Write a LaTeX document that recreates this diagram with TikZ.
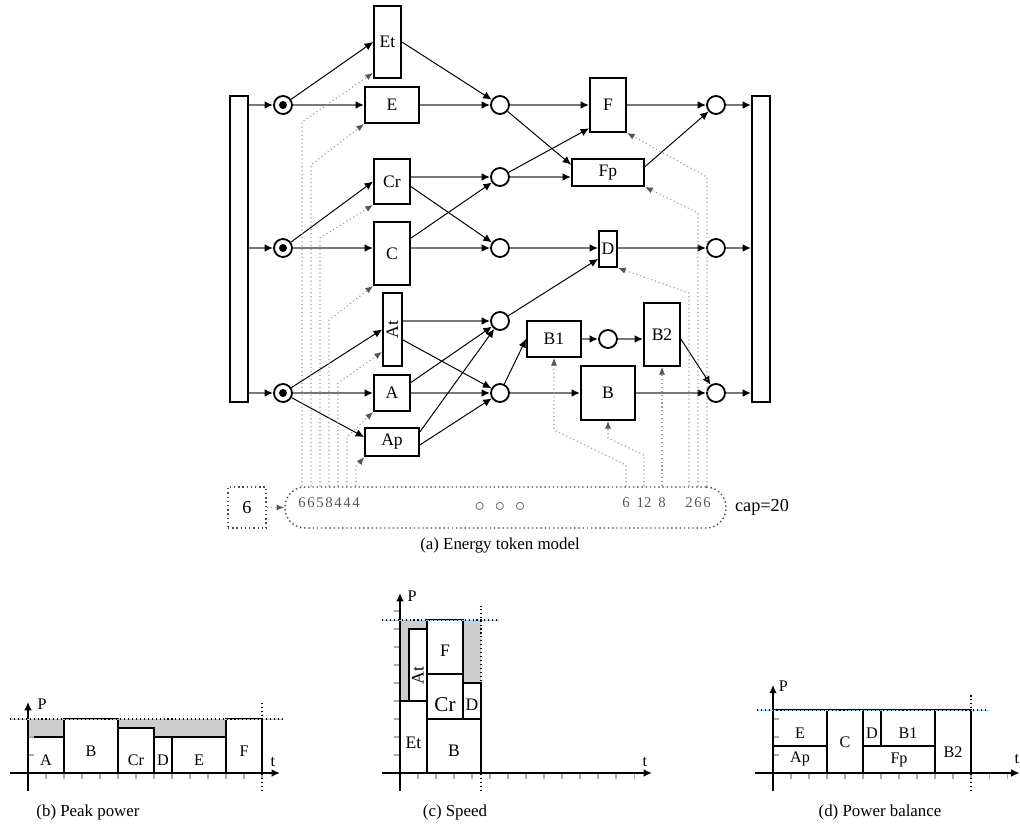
\documentclass[tikz,border=0pt]{standalone}
\usepackage{fontspec}
\setmainfont{Liberation Serif}
\usepackage{tikz}
\usetikzlibrary{arrows.meta, calc}
\definecolor{arcgray}{RGB}{120, 120, 120}
\definecolor{ctrlgray}{RGB}{155, 155, 155}
\definecolor{tipgray}{RGB}{85, 85, 85}
\definecolor{slackgray}{RGB}{205, 205, 205}
\definecolor{capblue}{RGB}{150, 200, 235}
\definecolor{tickgray}{RGB}{170, 170, 170}

\begin{document}
\begin{tikzpicture}[x=0.025cm, y=-0.025cm,
    trans/.style={draw, line width=1.3pt, fill=white, inner sep=0pt, font=\fontsize{12.5}{15}\selectfont},
    place/.style={draw, circle, line width=1.3pt, fill=white, minimum size=0.45cm, inner sep=0pt},
    arc/.style={arcgray, line width=1.2pt, -{Latex[color=black, length=6pt, width=5.5pt]}},
    link/.style={black, line width=0.7pt, -{Latex[length=6pt, width=5.5pt]}},
    ctrl/.style={ctrlgray, dotted, line width=0.8pt, -{Latex[color=tipgray, length=5.5pt, width=4.5pt]}},
    cnum/.style={tipgray, inner sep=0pt, font=\fontsize{10.5}{12}\selectfont},
    block/.style={draw, line width=1.2pt, fill=white},
    clabel/.style={inner sep=0pt, font=\fontsize{11.5}{13}\selectfont},
    axis/.style={black, line width=1.2pt, -{Latex[length=6pt, width=5.5pt]}},
    tick/.style={tickgray, line width=0.8pt},
    capline/.style={black, dotted, line width=0.8pt, preaction={draw, capblue, solid}},
    bound/.style={black, dotted, line width=0.8pt},
    caption/.style={font=\fontsize{12}{14}\selectfont}]
    \useasboundingbox (0,0) rectangle (1020,828);

    % Supply and sink bars
    \node[trans, minimum width=0.45cm, minimum height=7.65cm] (L) at (239,249) {};
    \node[trans, minimum width=0.45cm, minimum height=7.65cm] (R) at (761,249) {};

    % Marked places
    \foreach \n/\y in {p1/105, p2/248, p3/393} {
        \node[place] (\n) at (283,\y) {};
        \fill (\n.center) circle (0.1cm);
    }

    % Transitions
    \node[trans, minimum width=0.675cm, minimum height=1.8cm] (Et) at (387.5,42) {Et};
    \node[trans, minimum width=1.35cm, minimum height=0.9cm] (E) at (392,105) {E};
    \node[trans, minimum width=0.9cm, minimum height=1.125cm] (Cr) at (392,181.5) {Cr};
    \node[trans, minimum width=0.9cm, minimum height=1.575cm] (C) at (392,253.5) {C};
    \node[trans, minimum width=0.475cm, minimum height=1.825cm] (At) at (392.5,329.5) {\rotatebox{90}{At}};
    \node[trans, minimum width=0.9cm, minimum height=0.9cm] (A) at (392,393) {A};
    \node[trans, minimum width=1.35cm, minimum height=0.7cm] (Ap) at (392,442) {Ap};
    \node[trans, minimum width=0.9cm, minimum height=1.35cm] (F) at (608,105) {F};
    \node[trans, minimum width=1.8cm, minimum height=0.675cm] (Fp) at (608,172.5) {Fp};
    \node[trans, minimum width=0.45cm, minimum height=0.9cm] (D) at (608,249) {D};
    \node[trans, minimum width=1.35cm, minimum height=0.9cm] (B1) at (554,339) {B1};
    \node[trans, minimum width=0.9cm, minimum height=1.575cm] (B2) at (662,334.5) {B2};
    \node[trans, minimum width=1.35cm, minimum height=1.35cm] (B) at (608,393) {B};

    % Empty places
    \foreach \n/\y in {m1/105, m2/177, m3/248, m4/321, m5/393}
        \node[place] (\n) at (500,\y) {};
    \foreach \n/\y in {r1/105, r2/248, r3/393}
        \node[place] (\n) at (716,\y) {};
    \node[place] (mb) at (608,339) {};

    % Row arcs
    \foreach \p in {p1, p2, p3}
        \draw[arc] (L.east |- \p) -- (\p);
    \foreach \r in {r1, r2, r3}
        \draw[arc] (\r) -- (R.west |- \r);
    \draw[arc] (p1) -- (E);
    \draw[arc] (E) -- (m1);
    \draw[arc] (m1) -- (F);
    \draw[arc] (F) -- (r1);
    \draw[arc] (Cr.east |- m2) -- (m2);
    \draw[arc] (m2) -- (Fp.west |- m2);
    \draw[arc] (p2) -- (C.west |- p2);
    \draw[arc] (C.east |- p2) -- (m3);
    \draw[arc] (m3) -- (D.west |- m3);
    \draw[arc] (D.east |- m3) -- (r2);
    \draw[arc] (At.east |- m4) -- (m4);
    \draw[arc] (p3) -- (A);
    \draw[arc] (A) -- (m5);
    \draw[arc] (m5) -- (B);
    \draw[arc] (B) -- (r3);
    \draw[arc] (B1) -- (mb);
    \draw[arc] (mb) -- (B2.west |- mb);

    % Cross links
    \draw[link] (p1) -- (Et.west);
    \draw[link] (Et.east) -- (m1);
    \draw[link] (m1) -- (Fp.168);
    \draw[link] (p2) -- (Cr.west);
    \draw[link] (Cr.-15) -- (m3);
    \draw[link] (C.39) -- (m2);
    \draw[link] (m2) -- (F.231);
    \draw[link] (Fp.9) -- (r1);
    \draw[link] (p3) -- (At.west);
    \draw[link] (p3) -- (Ap.170);
    \draw[link] (At.-45) -- (m5);
    \draw[link] (A.29) -- (m4);
    \draw[link] (Ap.20) -- (m4);
    \draw[link] (Ap.-6) -- (m5);
    \draw[link] (m4) -- (D.225);
    \draw[link] (m5) -- (B1.west);
    \draw[link] (B2.-14) -- (r3);

    % Energy counter
    \node[draw, black!70, dotted, line width=1pt, rounded corners=0.5cm,
          minimum width=11.025cm, minimum height=1.025cm] (cnt) at (505.5,507.5) {};
    \node[draw, black!70, dotted, line width=1pt, minimum width=0.95cm, minimum height=1.025cm,
          text=black, font=\fontsize{13}{15}\selectfont] (spare) at (247,507.5) {6};
    \draw[ctrl] (spare) -- (cnt);
    \node[font=\fontsize{13}{15}\selectfont] (cap) at (762,507) {cap=20};
    \node[cnum, font=\fontsize{15}{17}\selectfont] (more) at (500,507) {$\circ\;\circ\;\circ$};

    \foreach \x/\ty/\tgt/\n in {302/122/Et.245/6, 311/165/E.south west/6, 320/238/Cr.south west/5,
        329/320/C.south west/8, 338/383/At.245/4, 347/437/A.south west/4, 356/467/Ap.south west/4,
        689/293/D.south east/2, 698/213/Fp.south east/6, 707/177/F.south east/6} {
        \node[cnum] (k\x) at (\x,503) {\n};
        \draw[ctrl] (k\x |- cnt.north) -- (\x,\ty) -- (\tgt);
    }
    \node[cnum] (k626) at (626,503) {6};
    \draw[ctrl] (k626 |- cnt.north) -- (626,465) -- (554,430) -- (B1.south);
    \node[cnum] (k644) at (644,503) {12};
    \draw[ctrl] (k644 |- cnt.north) -- (644,455) -- (608,438) -- (B.south);
    \node[cnum] (k662) at (662,503) {8};
    \draw[ctrl] (k662 |- cnt.north) -- (B2.south);

    \node[caption] (capa) at (500,545) {(a) Energy token model};

    % (b) Peak power
    \begin{scope}[shift={(28,773)}, x=0.45cm, y=0.45cm]
        \fill[slackgray] (0,0) rectangle (13,3);
        \foreach \a/\b/\h/\t/\ly in {0/2/2/A/0.72, 2/5/3/B/1.22, 5/7/2.5/Cr/0.72, 7/8/2/D/0.72, 8/11/2/E/0.72, 11/13/3/F/1.22} {
            \draw[block] (\a,0) rectangle (\b,\h);
            \node[clabel] (b\t) at ({(\a+\b)/2},\ly) {\t};
        }
        \foreach \i in {1,...,13}
            \draw[tick] (\i,0) -- (\i,-0.35);
        \foreach \j in {1,2}
            \draw[tick] (0,\j) -- (0.35,\j);
        \draw[axis] (-1,0) -- (14,0);
        \draw[axis] (0,-1) -- (0,3.95);
        \draw[capline] (-1,3) -- (14.1,3);
        \draw[bound] (13,-1) -- (13,3.9);
        \node[clabel] (bP) at (0.78,3.8) {P};
        \node[clabel] (bt) at (13.6,0.6) {t};
    \end{scope}
    \node[caption] (capb) at (88,812) {(b) Peak power};

    % (c) Speed
    \begin{scope}[shift={(400,773)}, x=0.45cm, y=0.45cm]
        \fill[slackgray] (0,0) rectangle (4.5,8.5);
        \draw[block] (0,0) rectangle (1.5,4);
        \draw[block] (0.5,4) rectangle (1.5,8);
        \draw[block] (1.5,0) rectangle (4.5,3);
        \draw[block] (1.5,3) rectangle (3.5,5.5);
        \draw[block] (3.5,3) rectangle (4.5,5);
        \draw[block] (1.5,5.5) rectangle (3.5,8.5);
        \node[clabel, font=\fontsize{12.5}{15}\selectfont] (cEt) at (0.75,1.65) {Et};
        \node[clabel, font=\fontsize{12.5}{15}\selectfont] (cAt) at (1,5.4) {\rotatebox{90}{At}};
        \node[clabel, font=\fontsize{12.5}{15}\selectfont] (cB) at (3,1.25) {B};
        \node[clabel, font=\fontsize{15}{17}\selectfont] (cCr) at (2.5,3.8) {Cr};
        \node[clabel, font=\fontsize{12.5}{15}\selectfont] (cD) at (4,3.8) {D};
        \node[clabel, font=\fontsize{12.5}{15}\selectfont] (cF) at (2.5,6.8) {F};
        \foreach \i in {1,...,13}
            \draw[tick] (\i,0) -- (\i,-0.35);
        \foreach \j in {1,...,9}
            \draw[tick] (0,\j) -- (-0.35,\j);
        \draw[axis] (-1,0) -- (14,0);
        \draw[axis] (0,-1) -- (0,10);
        \draw[capline] (-1,8.5) -- (5.5,8.5);
        \draw[bound] (4.5,-1) -- (4.5,9.3);
        \node[clabel] (cP) at (0.67,9.8) {P};
        \node[clabel] (ct) at (13.6,0.6) {t};
    \end{scope}
    \node[caption] (capc) at (455,812) {(c) Speed};

    % (d) Power balance
    \begin{scope}[shift={(773,773)}, x=0.45cm, y=0.45cm]
        \foreach \a/\b/\c/\d/\t/\lx/\ly in {0/0/3/1.5/Ap/1.5/0.76, 0/1.5/3/3.5/E/1.5/2.2, 3/0/5/3.5/C/4/1.72,
            5/0/9/1.5/Fp/7/0.74, 5/1.5/6/3.5/D/5.5/2.2, 6/1.5/9/3.5/B1/7.5/2.2, 9/0/11/3.5/B2/10/1.17} {
            \draw[block] (\a,\b) rectangle (\c,\d);
            \node[clabel] (d\t) at (\lx,\ly) {\t};
        }
        \foreach \i in {1,...,13}
            \draw[tick] (\i,0) -- (\i,-0.35);
        \foreach \j in {1,2,3}
            \draw[tick] (0,\j) -- (0.35,\j);
        \draw[axis] (-1,0) -- (13.7,0);
        \draw[axis] (0,-1) -- (0,4.9);
        \draw[capline] (-0.9,3.5) -- (12,3.5);
        \draw[bound] (11,-1) -- (11,4.4);
        \node[clabel] (dP) at (0.58,4.8) {P};
        \node[clabel] (dt) at (13.55,0.78) {t};
    \end{scope}
    \node[caption] (capd) at (880,812) {(d) Power balance};
\end{tikzpicture}
\end{document}
